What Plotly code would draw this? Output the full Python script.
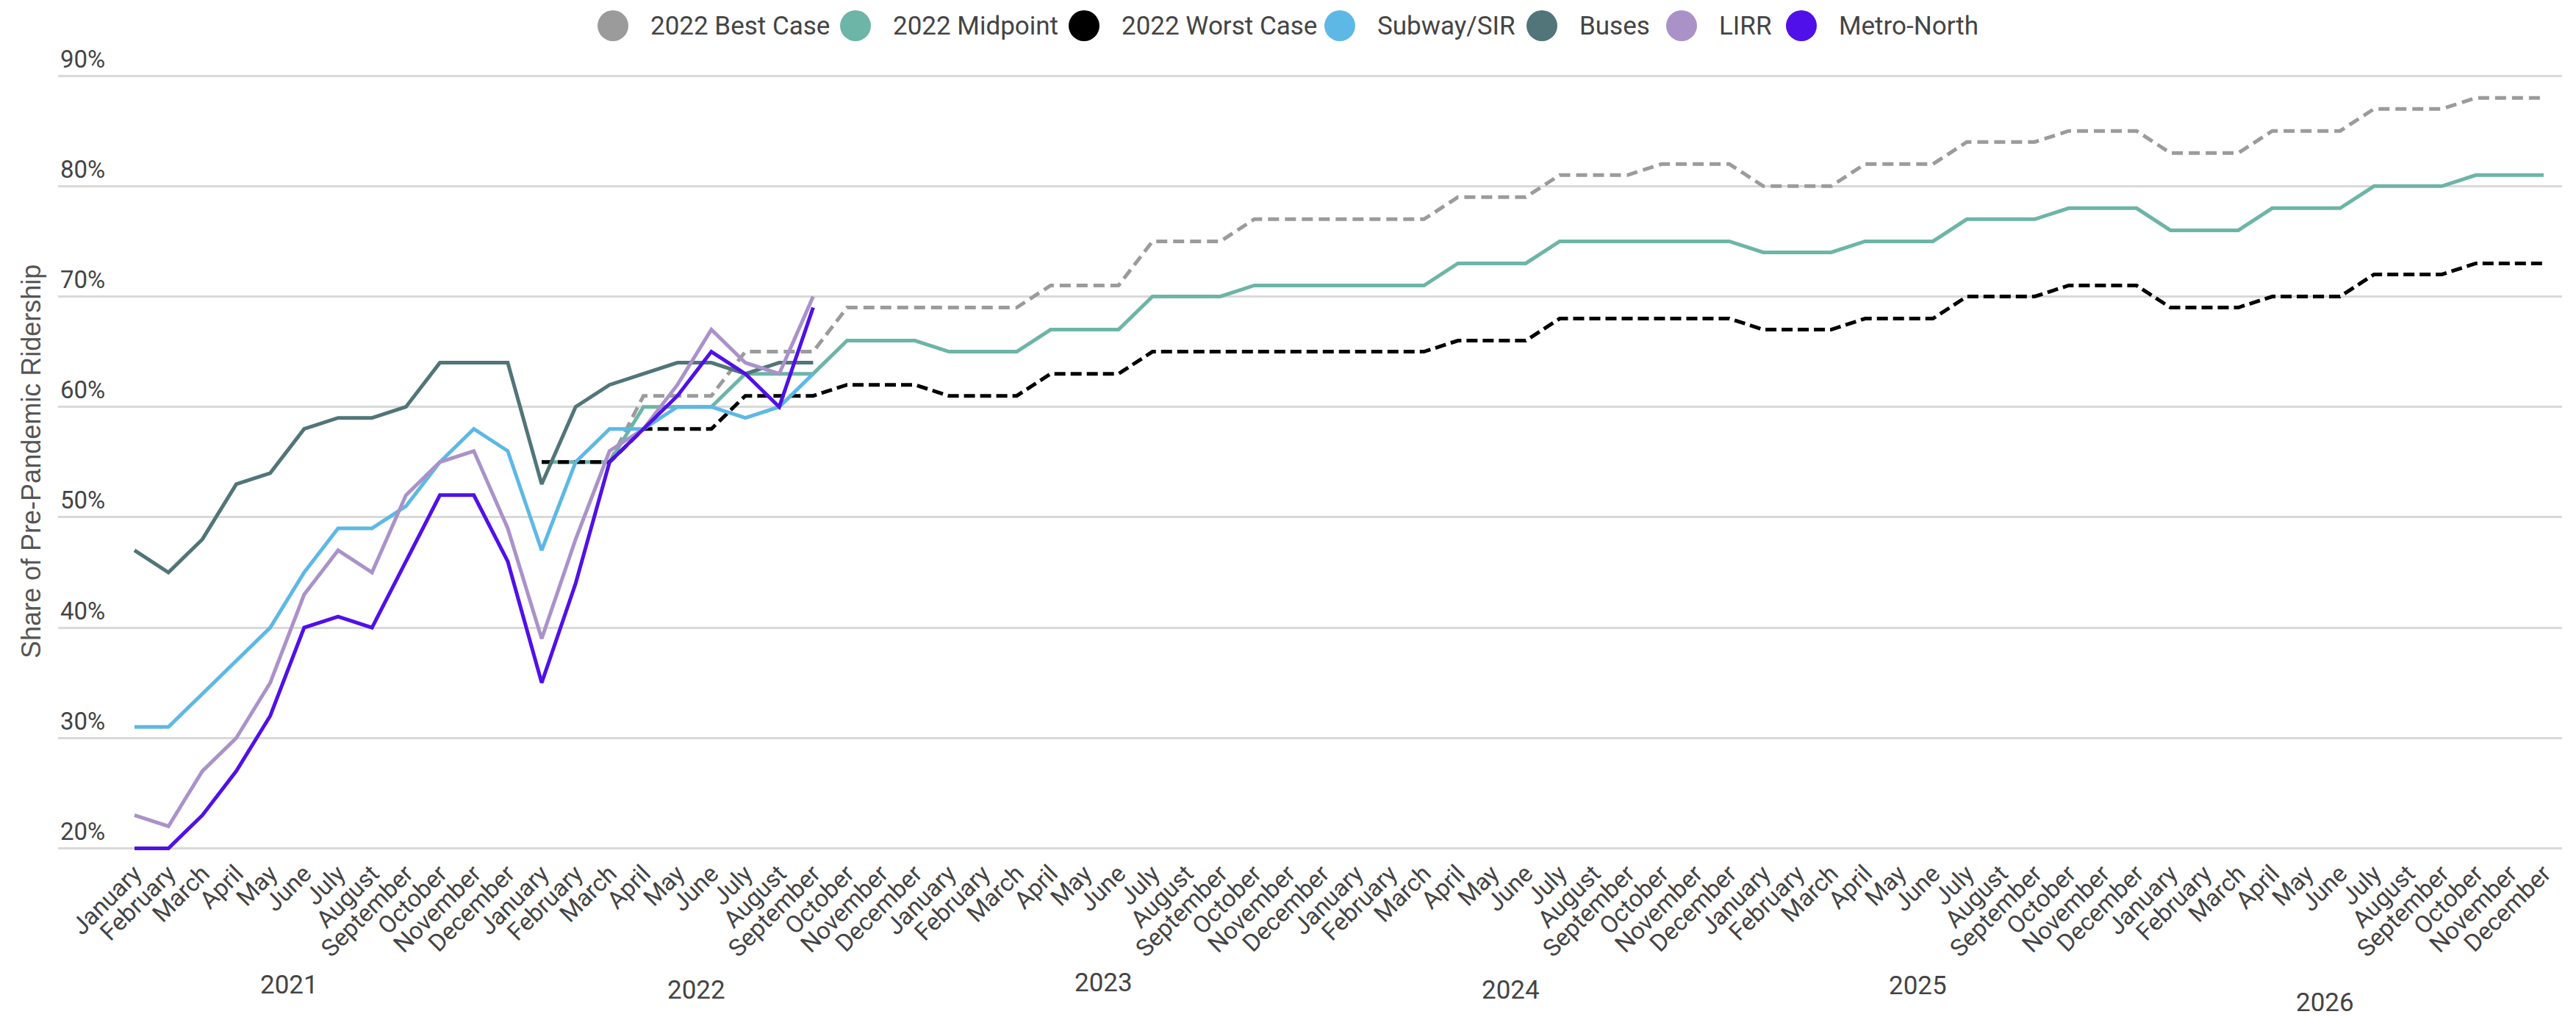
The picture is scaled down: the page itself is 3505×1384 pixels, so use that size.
import plotly.graph_objects as go

# ---- data -------------------------------------------------------------
years = [2021, 2022, 2023, 2024, 2025, 2026]
months = ["January", "February", "March", "April", "May", "June", "July",
          "August", "September", "October", "November", "December"]

# projections start January 2022
best_case = [55, 55, 55, 61, 61, 61, 65, 65, 65, 69, 69, 69,
             69, 69, 69, 71, 71, 71, 75, 75, 75, 77, 77, 77,
             77, 77, 77, 79, 79, 79, 81, 81, 81, 82, 82, 82,
             80, 80, 80, 82, 82, 82, 84, 84, 84, 85, 85, 85,
             83, 83, 83, 85, 85, 85, 87, 87, 87, 88, 88, 88]
midpoint = [55, 55, 55, 60, 60, 60, 63, 63, 63, 66, 66, 66,
            65, 65, 65, 67, 67, 67, 70, 70, 70, 71, 71, 71,
            71, 71, 71, 73, 73, 73, 75, 75, 75, 75, 75, 75,
            74, 74, 74, 75, 75, 75, 77, 77, 77, 78, 78, 78,
            76, 76, 76, 78, 78, 78, 80, 80, 80, 81, 81, 81]
worst_case = [55, 55, 55, 58, 58, 58, 61, 61, 61, 62, 62, 62,
              61, 61, 61, 63, 63, 63, 65, 65, 65, 65, 65, 65,
              65, 65, 65, 66, 66, 66, 68, 68, 68, 68, 68, 68,
              67, 67, 67, 68, 68, 68, 70, 70, 70, 71, 71, 71,
              69, 69, 69, 70, 70, 70, 72, 72, 72, 73, 73, 73]

# actuals, January 2021 - September 2022
subway = [31, 31, 34, 37, 40, 45, 49, 49, 51, 55, 58, 56,
          47, 55, 58, 58, 60, 60, 59, 60, 63]
buses = [47, 45, 48, 53, 54, 58, 59, 59, 60, 64, 64, 64,
         53, 60, 62, 63, 64, 64, 63, 64, 64]
lirr = [23, 22, 27, 30, 35, 43, 47, 45, 52, 55, 56, 49,
        39, 48, 56, 58, 62, 67, 64, 63, 70]
metro_north = [20, 20, 23, 27, 32, 40, 41, 40, 46, 52, 52, 46,
               35, 44, 55, 58, 61, 65, 63, 60, 69]

y_ticks = [20, 30, 40, 50, 60, 70, 80, 90]

# ---- layout geometry (pixels) ----------------------------------------
W, H = 3505, 1384
PX_PER_PCT = 15.03
Y_MIN, Y_MAX = 19.5, 95.0          # headroom so the top label fits inside
ML, MR, MB = 79, 19, 222
MT = round(103 - (Y_MAX - 90) * PX_PER_PCT)
PW, PH = W - ML - MR, H - MT - MB
STEP = 46.17                       # px per month
X0 = -(183 - ML) / STEP            # left edge of plot in month units
X1 = X0 + PW / STEP

n = len(years) * len(months)
idx = list(range(n))
tick_text = months * len(years)


def pad(values, start):
    out = [None] * n
    out[start:start + len(values)] = values
    return out


def px_to_paper_x(px):
    return (px - ML) / PW


def px_to_paper_y(py):
    return (H - MB - py) / PH


series = [
    ("2022 Best Case", pad(best_case, 12), "#9b9b9b", "15px,8px"),
    ("2022 Midpoint", pad(midpoint, 12), "#6cb5a7", "solid"),
    ("2022 Worst Case", pad(worst_case, 12), "#000000", "15px,7px"),
    ("Subway/SIR", pad(subway, 0), "#5db8e5", "solid"),
    ("Buses", pad(buses, 0), "#517578", "solid"),
    ("LIRR", pad(lirr, 0), "#aa92c9", "solid"),
    ("Metro-North", pad(metro_north, 0), "#5010e8", "solid"),
]

fig = go.Figure()
for name, vals, color, dash in series:
    fig.add_trace(go.Scatter(
        x=idx, y=vals, name=name, mode="lines",
        line=dict(color=color, width=5, dash=dash),
        showlegend=False, connectgaps=False,
    ))

# ---- custom legend: large dots with labels across the top ------------
legend_centers = [834, 1164, 1475, 1823, 2098, 2288, 2451]
shapes = []
annotations = []
for (name, _, color, _), cx in zip(series, legend_centers):
    shapes.append(dict(
        type="circle", xref="paper", yref="paper",
        xsizemode="pixel", ysizemode="pixel",
        xanchor=px_to_paper_x(cx), yanchor=px_to_paper_y(35),
        x0=-21, x1=21, y0=-21, y1=21,
        fillcolor=color, line=dict(width=0),
    ))
    annotations.append(dict(
        text=name, xref="paper", yref="paper",
        x=px_to_paper_x(cx + 49), y=px_to_paper_y(35),
        xanchor="left", yanchor="middle", showarrow=False,
        font=dict(family="Roboto", size=35, color="#444444"),
    ))

# year labels under the month ticks
year_offsets_y = [1340, 1347, 1337, 1347, 1342, 1364]
for k, (yr, py) in enumerate(zip(years, year_offsets_y)):
    annotations.append(dict(
        text=str(yr), xref="x", yref="paper",
        x=k * 12 + 5.5 - 0.95, y=px_to_paper_y(py),
        xanchor="center", yanchor="middle", showarrow=False,
        font=dict(family="Roboto", size=35, color="#444444"),
    ))

# y-axis title, centred on the 20%-90% band
annotations.append(dict(
    text="Share of Pre-Pandemic Ridership", xref="paper", yref="paper",
    x=px_to_paper_x(42), y=px_to_paper_y(628), textangle=-90,
    xanchor="center", yanchor="middle", showarrow=False,
    font=dict(family="Liberation Sans", size=36, color="#555555"),
))

fig.update_layout(
    width=W, height=H,
    margin=dict(l=ML, r=MR, t=MT, b=MB, pad=0),
    paper_bgcolor="white", plot_bgcolor="white",
    showlegend=False,
    shapes=shapes, annotations=annotations,
    font=dict(family="Roboto", color="#444444"),
    xaxis=dict(
        range=[X0, X1], tickmode="array", tickvals=idx, ticktext=tick_text,
        tickangle=-45, showgrid=False, zeroline=False, showline=False,
        ticks="", tickfont=dict(family="Roboto", size=33, color="#444444"),
    ),
    yaxis=dict(
        range=[Y_MIN, Y_MAX], tickmode="array", tickvals=y_ticks,
        ticktext=[f"{v}%" for v in y_ticks],
        ticklabelposition="inside top",
        showgrid=True, gridcolor="#d9d9d9", gridwidth=3,
        zeroline=False, showline=False, ticks="",
        tickfont=dict(family="Roboto", size=33, color="#444444"),
    ),
)

fig.write_html("out.html")
